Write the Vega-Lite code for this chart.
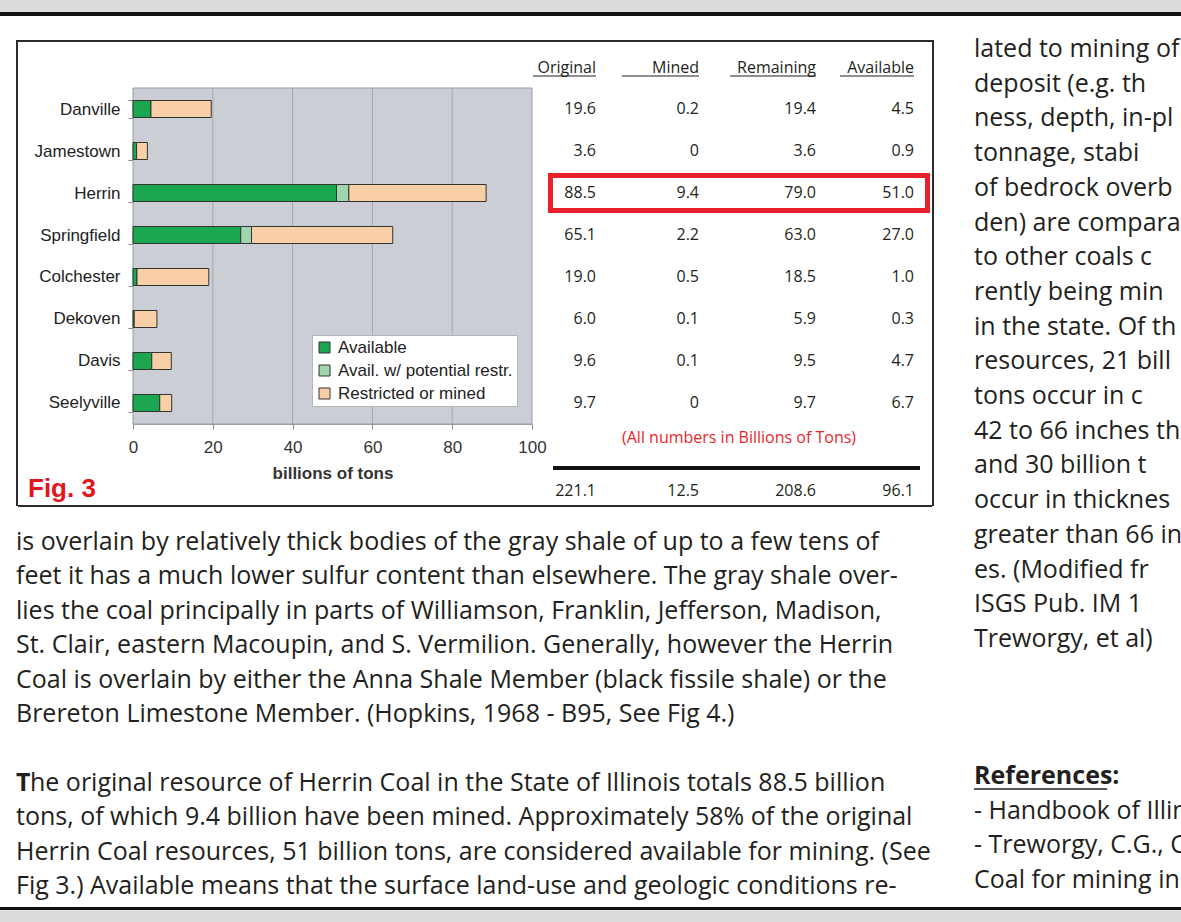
{
  "$schema": "https://vega.github.io/schema/vega-lite/v6.json",
  "padding": 0,
  "background": "#ffffff",
  "config": {"view": {"stroke": null}, "font": "Open Sans", "concat": {"spacing": 0}},
  "datasets": {
    "bars": [
      {"coal": "Danville", "part": "Available", "v": 4.5, "k": 1},
      {"coal": "Danville", "part": "Restricted or mined", "v": 15.1, "k": 3},
      {"coal": "Jamestown", "part": "Available", "v": 0.9, "k": 1},
      {"coal": "Jamestown", "part": "Restricted or mined", "v": 2.7, "k": 3},
      {"coal": "Herrin", "part": "Available", "v": 51.0, "k": 1},
      {"coal": "Herrin", "part": "Avail. w/ potential restr.", "v": 3.1, "k": 2},
      {"coal": "Herrin", "part": "Restricted or mined", "v": 34.4, "k": 3},
      {"coal": "Springfield", "part": "Available", "v": 27.0, "k": 1},
      {"coal": "Springfield", "part": "Avail. w/ potential restr.", "v": 2.7, "k": 2},
      {"coal": "Springfield", "part": "Restricted or mined", "v": 35.4, "k": 3},
      {"coal": "Colchester", "part": "Available", "v": 1.0, "k": 1},
      {"coal": "Colchester", "part": "Restricted or mined", "v": 18.0, "k": 3},
      {"coal": "Dekoven", "part": "Available", "v": 0.3, "k": 1},
      {"coal": "Dekoven", "part": "Restricted or mined", "v": 5.7, "k": 3},
      {"coal": "Davis", "part": "Available", "v": 4.7, "k": 1},
      {"coal": "Davis", "part": "Restricted or mined", "v": 4.9, "k": 3},
      {"coal": "Seelyville", "part": "Available", "v": 6.7, "k": 1},
      {"coal": "Seelyville", "part": "Restricted or mined", "v": 3.0, "k": 3}
    ],
    "grid": [{"g": 20}, {"g": 40}, {"g": 60}, {"g": 80}],
    "cells": [
      {"coal": "Danville", "r": 1, "c": 1, "t": "19.6"}, {"coal": "Danville", "r": 1, "c": 3, "t": "0.2"}, {"coal": "Danville", "r": 1, "c": 5, "t": "19.4"}, {"coal": "Danville", "r": 1, "c": 7, "t": "4.5"},
      {"coal": "Jamestown", "r": 2, "c": 1, "t": "3.6"}, {"coal": "Jamestown", "r": 2, "c": 3, "t": "0"}, {"coal": "Jamestown", "r": 2, "c": 5, "t": "3.6"}, {"coal": "Jamestown", "r": 2, "c": 7, "t": "0.9"},
      {"coal": "Herrin", "r": 3, "c": 1, "t": "88.5"}, {"coal": "Herrin", "r": 3, "c": 3, "t": "9.4"}, {"coal": "Herrin", "r": 3, "c": 5, "t": "79.0"}, {"coal": "Herrin", "r": 3, "c": 7, "t": "51.0"},
      {"coal": "Springfield", "r": 4, "c": 1, "t": "65.1"}, {"coal": "Springfield", "r": 4, "c": 3, "t": "2.2"}, {"coal": "Springfield", "r": 4, "c": 5, "t": "63.0"}, {"coal": "Springfield", "r": 4, "c": 7, "t": "27.0"},
      {"coal": "Colchester", "r": 5, "c": 1, "t": "19.0"}, {"coal": "Colchester", "r": 5, "c": 3, "t": "0.5"}, {"coal": "Colchester", "r": 5, "c": 5, "t": "18.5"}, {"coal": "Colchester", "r": 5, "c": 7, "t": "1.0"},
      {"coal": "Dekoven", "r": 6, "c": 1, "t": "6.0"}, {"coal": "Dekoven", "r": 6, "c": 3, "t": "0.1"}, {"coal": "Dekoven", "r": 6, "c": 5, "t": "5.9"}, {"coal": "Dekoven", "r": 6, "c": 7, "t": "0.3"},
      {"coal": "Davis", "r": 7, "c": 1, "t": "9.6"}, {"coal": "Davis", "r": 7, "c": 3, "t": "0.1"}, {"coal": "Davis", "r": 7, "c": 5, "t": "9.5"}, {"coal": "Davis", "r": 7, "c": 7, "t": "4.7"},
      {"coal": "Seelyville", "r": 8, "c": 1, "t": "9.7"}, {"coal": "Seelyville", "r": 8, "c": 3, "t": "0"}, {"coal": "Seelyville", "r": 8, "c": 5, "t": "9.7"}, {"coal": "Seelyville", "r": 8, "c": 7, "t": "6.7"},
      {"coal": "Total", "r": 11, "c": 1, "t": "221.1"}, {"coal": "Total", "r": 11, "c": 3, "t": "12.5"}, {"coal": "Total", "r": 11, "c": 5, "t": "208.6"}, {"coal": "Total", "r": 11, "c": 7, "t": "96.1"}
    ],
    "heads": [
      {"h": "Original", "cl": 0, "c": 1, "r": 0},
      {"h": "Mined", "cl": 2, "c": 3, "r": 0},
      {"h": "Remaining", "cl": 4, "c": 5, "r": 0},
      {"h": "Available", "cl": 6, "c": 7, "r": 0}
    ],
    "para": [
      {"ln": 0, "t": "is overlain by relatively thick bodies of the gray shale of up to a few tens of"},
      {"ln": 1, "t": "feet it has a much lower sulfur content than elsewhere.  The gray shale over-"},
      {"ln": 2, "t": "lies the coal principally in parts of  Williamson, Franklin, Jefferson, Madison,"},
      {"ln": 3, "t": "St. Clair, eastern Macoupin, and S. Vermilion. Generally, however the Herrin"},
      {"ln": 4, "t": "Coal is overlain by either the Anna Shale Member (black fissile shale) or the"},
      {"ln": 5, "t": "Brereton Limestone Member. (Hopkins, 1968 - B95, See Fig 4.)"},
      {"ln": 8, "t": "tons, of which 9.4 billion have been mined. Approximately 58% of the original"},
      {"ln": 9, "t": "Herrin Coal resources, 51 billion tons, are considered available for mining. (See"},
      {"ln": 10, "t": "Fig 3.)  Available means that the surface land-use and geologic conditions re-"}
    ],
    "side": [
      {"ln": 0, "t": "lated to mining of"},
      {"ln": 1, "t": "deposit (e.g. th"},
      {"ln": 2, "t": "ness, depth, in-pl"},
      {"ln": 3, "t": "tonnage, stabi"},
      {"ln": 4, "t": "of bedrock overb"},
      {"ln": 5, "t": "den) are compara"},
      {"ln": 6, "t": "to other coals c"},
      {"ln": 7, "t": "rently being min"},
      {"ln": 8, "t": "in the state. Of th"},
      {"ln": 9, "t": "resources, 21 bill"},
      {"ln": 10, "t": "tons occur in c"},
      {"ln": 11, "t": "42 to 66 inches th"},
      {"ln": 12, "t": "and 30 billion t"},
      {"ln": 13, "t": "occur in thicknes"},
      {"ln": 14, "t": "greater than 66 in"},
      {"ln": 15, "t": "es. (Modified fr"},
      {"ln": 16, "t": "ISGS Pub. IM 1"},
      {"ln": 17, "t": "Treworgy, et al)"},
      {"ln": 22, "t": "- Handbook of Illin"},
      {"ln": 23, "t": "- Treworgy, C.G., C"},
      {"ln": 24, "t": "Coal for mining in"}
    ]
  },
  "spacing": 0,
  "vconcat": [
    {"width": 1181, "height": 12, "view": {"fill": "#dcdcdc", "stroke": null}, "data": {"values": []}, "mark": "point"},
    {"width": 1181, "height": 4, "view": {"fill": "#111111", "stroke": null}, "data": {"values": []}, "mark": "point"},
    {
      "spacing": 0,
      "hconcat": [
        {
          "spacing": 0,
          "vconcat": [
            {"width": 945, "height": 24, "data": {"values": []}, "mark": "point"},
            {
              "spacing": 0,
              "hconcat": [
                {"width": 16, "height": 466, "data": {"values": []}, "mark": "point"},
                {"width": 2, "height": 466, "view": {"fill": "#2b2b2b", "stroke": null}, "data": {"values": []}, "mark": "point"},
                {
                  "spacing": 0,
                  "vconcat": [
                    {"width": 914, "height": 2, "view": {"fill": "#2b2b2b", "stroke": null}, "data": {"values": []}, "mark": "point"},
                    {
                      "width": 914,
                      "height": 454,
                      "resolve": {"scale": {"x": "independent", "y": "independent"}, "axis": {"x": "independent", "y": "independent"}},
                      "layer": [
                        {
                          "data": {"values": [{}]},
                          "mark": {"type": "rect", "fill": "#cbced5", "stroke": "#9c9fa6", "strokeWidth": 1},
                          "encoding": {
                            "x": {"datum": 0, "type": "quantitative", "scale": {"domain": [0, 100], "range": [115, 514], "nice": false, "zero": false}, "axis": null},
                            "x2": {"datum": 100},
                            "y": {"datum": 0, "type": "quantitative", "scale": {"domain": [0, 1], "range": [37, 373], "nice": false, "zero": false}, "axis": null},
                            "y2": {"datum": 1}
                          }
                        },
                        {
                          "data": {"name": "grid"},
                          "mark": {"type": "rule", "color": "#a4a7ae", "strokeWidth": 1},
                          "encoding": {
                            "x": {"field": "g", "type": "quantitative", "scale": {"domain": [0, 100], "range": [115, 514], "nice": false, "zero": false}, "axis": null},
                            "y": {"datum": 0, "type": "quantitative", "scale": {"domain": [0, 1], "range": [37, 373], "nice": false, "zero": false}, "axis": null},
                            "y2": {"datum": 1}
                          }
                        },
                        {
                          "data": {"name": "bars"},
                          "mark": {"type": "bar", "stroke": "#333333", "strokeWidth": 1},
                          "encoding": {
                            "y": {
                              "field": "coal", "type": "nominal",
                              "sort": ["Danville", "Jamestown", "Herrin", "Springfield", "Colchester", "Dekoven", "Davis", "Seelyville"],
                              "scale": {"range": [37, 373], "paddingInner": 0.595, "paddingOuter": 0.2976},
                              "axis": {"title": null, "offset": -115, "grid": false, "labelFont": "Liberation Sans", "labelFontSize": 17, "labelColor": "#222222", "tickBand": "extent", "tickSize": 5, "tickColor": "#8a8a8a", "domainColor": "#555555", "labelPadding": 8}
                            },
                            "x": {
                              "field": "v", "type": "quantitative", "stack": "zero",
                              "scale": {"domain": [0, 100], "range": [115, 514], "nice": false, "zero": false},
                              "axis": {"offset": -81, "values": [0, 20, 40, 60, 80, 100], "grid": false, "labelFont": "Liberation Sans", "labelFontSize": 17, "labelColor": "#333333", "labelFlush": false, "tickSize": 5, "tickColor": "#8a8a8a", "domainColor": "#9c9fa6", "labelPadding": 10, "title": "billions of tons", "titleFont": "Liberation Sans", "titleFontSize": 17, "titleFontWeight": "bold", "titleColor": "#333333", "titlePadding": 10}
                            },
                            "color": {
                              "field": "part", "type": "nominal",
                              "scale": {"domain": ["Available", "Avail. w/ potential restr.", "Restricted or mined"], "range": ["#1aa750", "#9fd6b0", "#f8cfa6"]},
                              "legend": {"title": null, "orient": "none", "legendX": 312, "legendY": 335, "fillColor": "#ffffff", "strokeColor": "#b5b5b5", "padding": 4, "symbolType": "square", "symbolSize": 121, "symbolStrokeColor": "#333333", "symbolStrokeWidth": 1, "labelFont": "Liberation Sans", "labelFontSize": 17, "labelColor": "#222222", "labelLimit": 300, "rowPadding": 5, "labelOffset": 5}
                            },
                            "order": {"field": "k", "type": "quantitative"}
                          }
                        },
                        {
                          "data": {"values": [{"t": "Fig. 3"}]},
                          "mark": {"type": "text", "align": "left", "baseline": "middle", "font": "Liberation Sans", "fontWeight": "bold", "fontSize": 26, "color": "#e3161e"},
                          "encoding": {
                            "text": {"field": "t", "type": "nominal"},
                            "x": {"datum": 0, "type": "quantitative", "scale": {"domain": [0, 1], "range": [10, 914], "nice": false, "zero": false}, "axis": null},
                            "y": {"datum": 11, "type": "quantitative", "scale": {"domain": [0, 1, 8, 9, 10, 11], "range": [17, 58, 352, 387, 417, 438], "nice": false, "zero": false}, "axis": null}
                          }
                        },
                        {
                          "data": {"values": [{"cl": 0, "c": 7, "r": 3}]},
                          "mark": {"type": "rect", "fill": "transparent", "stroke": "#e8202b", "strokeWidth": 5, "xOffset": 17.5, "x2Offset": 13.5, "yOffset": -17.5, "y2Offset": 17.5},
                          "encoding": {
                            "x": {"field": "cl", "type": "quantitative", "scale": {"domain": [0, 1, 2, 3, 4, 5, 6, 7], "range": [515, 578, 604, 681, 712, 798, 822, 896], "nice": false, "zero": false}, "axis": null},
                            "x2": {"field": "c"},
                            "y": {"field": "r", "type": "quantitative", "scale": {"domain": [0, 1, 8, 9, 10, 11], "range": [17, 58, 352, 387, 417, 440], "nice": false, "zero": false}, "axis": null},
                            "y2": {"field": "r"}
                          }
                        },
                        {
                          "data": {"name": "heads"},
                          "mark": {"type": "text", "align": "right", "baseline": "middle", "fontSize": 16, "color": "#231f20"},
                          "encoding": {
                            "x": {"field": "c", "type": "quantitative", "scale": {"domain": [0, 1, 2, 3, 4, 5, 6, 7], "range": [515, 578, 604, 681, 712, 798, 822, 896], "nice": false, "zero": false}, "axis": null},
                            "y": {"field": "r", "type": "quantitative", "scale": {"domain": [0, 1, 8, 9, 10, 11], "range": [17, 58, 352, 387, 417, 440], "nice": false, "zero": false}, "axis": null},
                            "text": {"field": "h", "type": "nominal"}
                          }
                        },
                        {
                          "data": {"name": "heads"},
                          "mark": {"type": "rule", "strokeWidth": 1.2, "color": "#231f20", "yOffset": 8},
                          "encoding": {
                            "x": {"field": "cl", "type": "quantitative", "scale": {"domain": [0, 1, 2, 3, 4, 5, 6, 7], "range": [515, 578, 604, 681, 712, 798, 822, 896], "nice": false, "zero": false}, "axis": null},
                            "x2": {"field": "c"},
                            "y": {"field": "r", "type": "quantitative", "scale": {"domain": [0, 1, 8, 9, 10, 11], "range": [17, 58, 352, 387, 417, 440], "nice": false, "zero": false}, "axis": null}
                          }
                        },
                        {
                          "data": {"name": "cells"},
                          "mark": {"type": "text", "align": "right", "baseline": "middle", "fontSize": 16, "color": "#231f20"},
                          "encoding": {
                            "x": {"field": "c", "type": "quantitative", "scale": {"domain": [0, 1, 2, 3, 4, 5, 6, 7], "range": [515, 578, 604, 681, 712, 798, 822, 896], "nice": false, "zero": false}, "axis": null},
                            "y": {"field": "r", "type": "quantitative", "scale": {"domain": [0, 1, 8, 9, 10, 11], "range": [17, 58, 352, 387, 417, 440], "nice": false, "zero": false}, "axis": null},
                            "text": {"field": "t", "type": "nominal"}
                          }
                        },
                        {
                          "data": {"values": [{"t": "(All numbers in Billions of Tons)", "cl": 2, "r": 9}]},
                          "mark": {"type": "text", "align": "left", "baseline": "middle", "fontSize": 16, "color": "#e8262d"},
                          "encoding": {
                            "x": {"field": "cl", "type": "quantitative", "scale": {"domain": [0, 1, 2, 3, 4, 5, 6, 7], "range": [515, 578, 604, 681, 712, 798, 822, 896], "nice": false, "zero": false}, "axis": null},
                            "y": {"field": "r", "type": "quantitative", "scale": {"domain": [0, 1, 8, 9, 10, 11], "range": [17, 58, 352, 387, 417, 440], "nice": false, "zero": false}, "axis": null},
                            "text": {"field": "t", "type": "nominal"}
                          }
                        },
                        {
                          "data": {"values": [{"cl": 0, "c": 7, "r": 10}]},
                          "mark": {"type": "rule", "strokeWidth": 4, "color": "#111111", "xOffset": 20, "x2Offset": 6},
                          "encoding": {
                            "x": {"field": "cl", "type": "quantitative", "scale": {"domain": [0, 1, 2, 3, 4, 5, 6, 7], "range": [515, 578, 604, 681, 712, 798, 822, 896], "nice": false, "zero": false}, "axis": null},
                            "x2": {"field": "c"},
                            "y": {"field": "r", "type": "quantitative", "scale": {"domain": [0, 1, 8, 9, 10, 11], "range": [17, 58, 352, 387, 417, 440], "nice": false, "zero": false}, "axis": null}
                          }
                        }
                      ]
                    },
                    {"width": 914, "height": 2, "view": {"fill": "#2b2b2b", "stroke": null}, "data": {"values": []}, "mark": "point"}
                  ]
                },
                {"width": 2, "height": 466, "view": {"fill": "#2b2b2b", "stroke": null}, "data": {"values": []}, "mark": "point"},
                {"width": 11, "height": 466, "data": {"values": []}, "mark": "point"}
              ]
            },
            {
              "spacing": 0,
              "hconcat": [
                {"width": 16, "height": 400, "data": {"values": []}, "mark": "point"},
                {
                  "width": 929,
                  "height": 400,
                  "layer": [
                    {
                      "data": {"name": "para"},
                      "mark": {"type": "text", "align": "left", "baseline": "middle", "fontSize": 25, "color": "#231f20"},
                      "encoding": {
                        "x": {"datum": 0, "type": "quantitative", "scale": {"domain": [0, 1], "nice": false, "zero": false}, "axis": null},
                        "y": {"field": "ln", "type": "quantitative", "scale": {"domain": [0, 10], "range": [35, 379], "nice": false, "zero": false}, "axis": null},
                        "text": {"field": "t", "type": "nominal"}
                      }
                    },
                    {
                      "data": {"values": [{"ln": 7, "t": "T"}]},
                      "mark": {"type": "text", "align": "left", "baseline": "middle", "fontSize": 25, "fontWeight": "bold", "color": "#231f20"},
                      "encoding": {
                        "x": {"datum": 0, "type": "quantitative", "scale": {"domain": [0, 1], "nice": false, "zero": false}, "axis": null},
                        "y": {"field": "ln", "type": "quantitative", "scale": {"domain": [0, 10], "range": [35, 379], "nice": false, "zero": false}, "axis": null},
                        "text": {"field": "t", "type": "nominal"}
                      }
                    },
                    {
                      "data": {"values": [{"ln": 7, "t": "he original resource of Herrin Coal in the State of Illinois totals 88.5 billion"}]},
                      "mark": {"type": "text", "align": "left", "baseline": "middle", "fontSize": 25, "dx": 14, "color": "#231f20"},
                      "encoding": {
                        "x": {"datum": 0, "type": "quantitative", "scale": {"domain": [0, 1], "nice": false, "zero": false}, "axis": null},
                        "y": {"field": "ln", "type": "quantitative", "scale": {"domain": [0, 10], "range": [35, 379], "nice": false, "zero": false}, "axis": null},
                        "text": {"field": "t", "type": "nominal"}
                      }
                    }
                  ]
                }
              ]
            }
          ]
        },
        {
          "spacing": 0,
          "hconcat": [
            {"width": 28, "height": 890, "data": {"values": []}, "mark": "point"},
            {
              "width": 208,
              "height": 890,
              "layer": [
                {
                  "data": {"name": "side"},
                  "mark": {"type": "text", "align": "left", "baseline": "middle", "fontSize": 25, "color": "#231f20", "clip": true},
                  "encoding": {
                    "x": {"datum": 0, "type": "quantitative", "scale": {"domain": [0, 1], "nice": false, "zero": false}, "axis": null},
                    "y": {"field": "ln", "type": "quantitative", "scale": {"domain": [0, 17, 21, 24], "range": [33, 623, 760, 864], "nice": false, "zero": false}, "axis": null},
                    "text": {"field": "t", "type": "nominal"}
                  }
                },
                {
                  "data": {"values": [{"ln": 21, "t": "References:"}]},
                  "mark": {"type": "text", "align": "left", "baseline": "middle", "fontSize": 25, "fontWeight": "bold", "color": "#231f20", "clip": true},
                  "encoding": {
                    "x": {"datum": 0, "type": "quantitative", "scale": {"domain": [0, 1], "nice": false, "zero": false}, "axis": null},
                    "y": {"field": "ln", "type": "quantitative", "scale": {"domain": [0, 17, 21, 24], "range": [33, 623, 760, 864], "nice": false, "zero": false}, "axis": null},
                    "text": {"field": "t", "type": "nominal"}
                  }
                },
                {
                  "data": {"values": [{"ln": 21}]},
                  "mark": {"type": "rule", "color": "#231f20", "strokeWidth": 1.5, "yOffset": 13},
                  "encoding": {
                    "x": {"datum": 0, "type": "quantitative", "scale": {"domain": [0, 1], "nice": false, "zero": false}, "axis": null},
                    "x2": {"datum": 0.64},
                    "y": {"field": "ln", "type": "quantitative", "scale": {"domain": [0, 17, 21, 24], "range": [33, 623, 760, 864], "nice": false, "zero": false}, "axis": null}
                  }
                }
              ]
            }
          ]
        }
      ]
    },
    {"width": 1181, "height": 3, "view": {"fill": "#111111", "stroke": null}, "data": {"values": []}, "mark": "point"},
    {"width": 1181, "height": 13, "view": {"fill": "#dcdcdc", "stroke": null}, "data": {"values": []}, "mark": "point"}
  ]
}
